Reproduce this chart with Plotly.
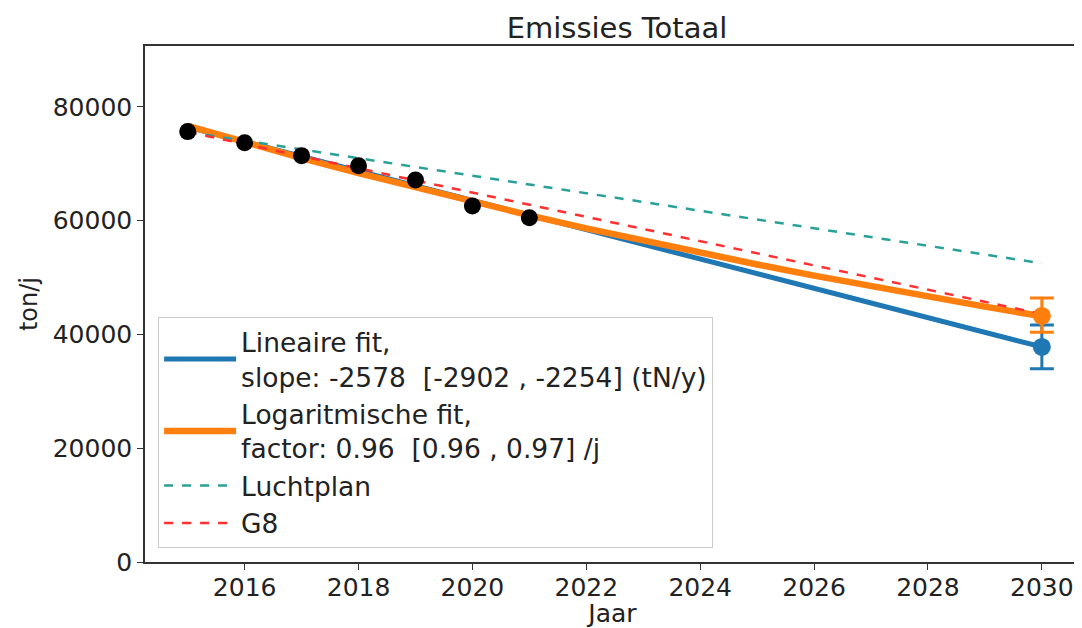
import plotly.graph_objects as go

years_obs = [2015, 2016, 2017, 2018, 2019, 2020, 2021]
emis_obs = [75650, 73710, 71430, 69670, 67160, 62590, 60530]

years_fit = list(range(2015, 2031))
lin_fit = [76450, 73872, 71294, 68716, 66138, 63560, 60982, 58404, 55826, 53248,
           50670, 48092, 45514, 42936, 40358, 37800]
log_fit = [76650, 73776, 71008, 68345, 65782, 63315, 60941, 58656, 56456, 54339,
           52301, 50340, 48452, 46635, 44886, 43203]

plan_years = [2015, 2030]
luchtplan = [75600, 52500]
g8 = [75600, 43600]

pred_year = [2030]
lin_pred = [37800]
lin_err_plus = [3850]
lin_err_minus = [3850]
log_pred = [43250]
log_err_plus = [3150]
log_err_minus = [2850]

x_ticks = [2016, 2018, 2020, 2022, 2024, 2026, 2028, 2030]
y_ticks = [0, 20000, 40000, 60000, 80000]

BLUE = "#1f77b4"
ORANGE = "#ff7f0e"
TEAL = "#2aa198"
RED = "#ff3030"

fig = go.Figure()
fig.add_trace(go.Scatter(
    x=years_fit, y=lin_fit, mode="lines", line=dict(color=BLUE, width=5),
    name="Lineaire fit,<br>slope: -2578  [-2902 , -2254] (tN/y)"))
fig.add_trace(go.Scatter(
    x=years_fit, y=log_fit, mode="lines", line=dict(color=ORANGE, width=6.5),
    name="Logaritmische fit,<br>factor: 0.96  [0.96 , 0.97] /j"))
fig.add_trace(go.Scatter(
    x=plan_years, y=luchtplan, mode="lines",
    line=dict(color=TEAL, width=2.5, dash="dash"), name="Luchtplan"))
fig.add_trace(go.Scatter(
    x=plan_years, y=g8, mode="lines",
    line=dict(color=RED, width=2.5, dash="dash"), name="G8"))
fig.add_trace(go.Scatter(
    x=years_obs, y=emis_obs, mode="markers",
    marker=dict(color="black", size=17), showlegend=False))
fig.add_trace(go.Scatter(
    x=pred_year, y=lin_pred, mode="markers",
    marker=dict(color=BLUE, size=18), showlegend=False,
    error_y=dict(type="data", array=lin_err_plus, arrayminus=lin_err_minus,
                 color=BLUE, thickness=3, width=12)))
fig.add_trace(go.Scatter(
    x=pred_year, y=log_pred, mode="markers",
    marker=dict(color=ORANGE, size=18), showlegend=False,
    error_y=dict(type="data", array=log_err_plus, arrayminus=log_err_minus,
                 color=ORANGE, thickness=3, width=12)))

axis_common = dict(showgrid=False, zeroline=False, showline=True, mirror=True,
                   linecolor="#333", linewidth=1.5, ticks="outside", ticklen=6,
                   tickcolor="#333", tickfont=dict(size=25, color="#222"))

fig.update_layout(
    width=1074, height=620,
    margin=dict(l=137, r=0, t=38, b=66),
    paper_bgcolor="white", plot_bgcolor="white",
    font=dict(family="DejaVu Sans", color="#222"),
    title=dict(text="Emissies Totaal", x=0.567, xanchor="center", y=0.968,
               yanchor="middle", font=dict(size=29, color="#222")),
    xaxis=dict(range=[2014.25, 2030.67], tickvals=x_ticks,
               ticklabelstandoff=-4,
               title=dict(text="Jaar", font=dict(size=25), standoff=0),
               **axis_common),
    yaxis=dict(range=[0, 90700], tickvals=y_ticks, tickformat="d",
               title=dict(text="ton/j", font=dict(size=24), standoff=8),
               **axis_common),
    legend=dict(x=0.014, y=0.027, xanchor="left", yanchor="bottom",
                bgcolor="rgba(255,255,255,0.85)", bordercolor="#ccc",
                borderwidth=1, font=dict(size=26.5, color="#222"),
                valign="middle", tracegroupgap=0, itemwidth=72),
    showlegend=True,
)

fig.write_html("out.html")
